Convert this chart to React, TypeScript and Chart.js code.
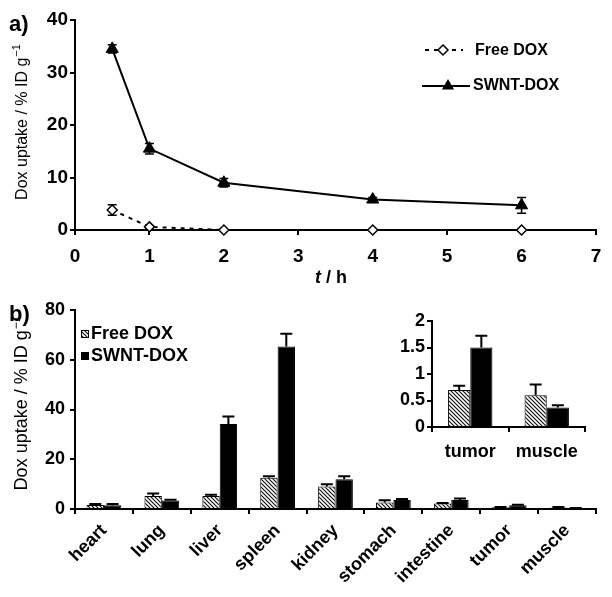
import React, { useEffect, useRef } from "react";
import { Chart, registerables } from "chart.js";
Chart.register(...registerables);

const FONT = "Arial, 'Liberation Sans', Helvetica, sans-serif";

// ---- Panel a: uptake vs time ----
const timeHours = [0.5, 1, 2, 4, 6];
const freeDoxTime = [3.8, 0.6, 0, 0, 0];
const freeDoxTimeErr = [1.0, 0.2, 0, 0, 0];
const swntDoxTime = [34.5, 15.5, 9.0, 5.8, 4.7];
const swntDoxTimeErr = [0.8, 1.0, 0.8, 0.4, 1.5];
const timeTickMin = 0;
const timeTickMax = 7;
const uptakeAMax = 40;

// ---- Panel b: organ distribution ----
const organs = ["heart", "lung", "liver", "spleen", "kidney", "stomach", "intestine", "tumor", "muscle"];
const freeDoxOrgan = [1.6, 5.2, 5.2, 12.6, 9.0, 2.6, 2.2, 0.7, 0.6];
const freeDoxOrganErr = [0.4, 1.0, 0.5, 0.6, 0.9, 0.9, 0.2, 0.08, 0.2];
const swntDoxOrgan = [1.5, 3.4, 34.2, 65.3, 12.0, 3.6, 3.6, 1.5, 0.37];
const swntDoxOrganErr = [0.5, 0.3, 3.0, 5.2, 1.2, 0.4, 0.6, 0.22, 0.04];
const uptakeBMax = 80;

// ---- Inset ----
const insetOrgans = ["tumor", "muscle"];
const insetFree = [0.7, 0.6];
const insetFreeErr = [0.08, 0.2];
const insetSwnt = [1.5, 0.37];
const insetSwntErr = [0.22, 0.04];
const insetMax = 2;

const seriesNames = ["Free DOX", "SWNT-DOX"];

Chart.defaults.font.family = FONT;
Chart.defaults.color = "#000";

function makeHatch(): CanvasPattern | string {
  const c = document.createElement("canvas");
  c.width = 4;
  c.height = 4;
  const g = c.getContext("2d");
  if (!g) return "#888";
  g.fillStyle = "#fff";
  g.fillRect(0, 0, 4, 4);
  g.strokeStyle = "#111";
  g.lineWidth = 1.2;
  g.beginPath();
  g.moveTo(-1, -1);
  g.lineTo(5, 5);
  g.moveTo(-1, 3);
  g.lineTo(1, 5);
  g.moveTo(3, -1);
  g.lineTo(5, 1);
  g.stroke();
  return g.createPattern(c, "repeat") as CanvasPattern;
}

function drawErrors(chart: any, cap: number, lw: number) {
  const ctx = chart.ctx;
  ctx.save();
  ctx.strokeStyle = "#000";
  ctx.lineWidth = lw;
  chart.data.datasets.forEach((ds: any, di: number) => {
    const errs = ds.errors;
    if (!errs) return;
    const meta = chart.getDatasetMeta(di);
    const ys = chart.scales[meta.yAxisID];
    meta.data.forEach((el: any, i: number) => {
      const e = errs[i];
      if (!e) return;
      const raw = ds.data[i];
      const v = typeof raw === "object" ? raw.y : raw;
      const x = el.x;
      const yTop = ys.getPixelForValue(v + e);
      const yBot = ds.errorBoth ? ys.getPixelForValue(v - e) : ys.getPixelForValue(v);
      ctx.beginPath();
      ctx.moveTo(x, yBot);
      ctx.lineTo(x, yTop);
      ctx.moveTo(x - cap / 2, yTop);
      ctx.lineTo(x + cap / 2, yTop);
      if (ds.errorBoth) {
        ctx.moveTo(x - cap / 2, yBot);
        ctx.lineTo(x + cap / 2, yBot);
      }
      ctx.stroke();
    });
  });
  ctx.restore();
}

function drawYTitle(ctx: CanvasRenderingContext2D, baseX: number, cy: number, size: number) {
  ctx.save();
  ctx.translate(baseX, cy);
  ctx.rotate(-Math.PI / 2);
  ctx.fillStyle = "#000";
  const main = "Dox uptake / % ID g";
  const sup = "\u22121";
  const supSize = Math.round(size * 0.68);
  ctx.font = `${size}px ${FONT}`;
  const w1 = ctx.measureText(main).width;
  ctx.font = `${supSize}px ${FONT}`;
  const w2 = ctx.measureText(sup).width;
  const start = -(w1 + w2 + 1) / 2;
  ctx.textAlign = "left";
  ctx.textBaseline = "alphabetic";
  ctx.font = `${size}px ${FONT}`;
  ctx.fillText(main, start, 0);
  ctx.font = `${supSize}px ${FONT}`;
  ctx.fillText(sup, start + w1 + 1, -size * 0.4);
  ctx.restore();
}

function drawDiamond(ctx: CanvasRenderingContext2D, x: number, y: number, r: number) {
  ctx.beginPath();
  ctx.moveTo(x, y - r);
  ctx.lineTo(x + r, y);
  ctx.lineTo(x, y + r);
  ctx.lineTo(x - r, y);
  ctx.closePath();
  ctx.fillStyle = "#fff";
  ctx.fill();
  ctx.strokeStyle = "#000";
  ctx.lineWidth = 1.5;
  ctx.stroke();
}

function drawTriangle(ctx: CanvasRenderingContext2D, x: number, y: number, r: number) {
  const h = (r * 3) / 2;
  const half = r * Math.sin(Math.PI / 3);
  ctx.beginPath();
  ctx.moveTo(x, y - r);
  ctx.lineTo(x + half, y - r + h);
  ctx.lineTo(x - half, y - r + h);
  ctx.closePath();
  ctx.fillStyle = "#000";
  ctx.fill();
}

const axisGrid = { drawOnChartArea: false, drawTicks: true, tickLength: 5, color: "#000", lineWidth: 2 };
const axisBorder = { color: "#000", width: 2 };
const tickFontA = { family: FONT, size: 19, weight: "bold" as const };
const tickFontB = { family: FONT, size: 18, weight: "bold" as const };

function makeTimeChart(): any {
  return {
    type: "line",
    data: {
      datasets: [
        {
          label: seriesNames[0],
          data: timeHours.map((t, i) => ({ x: t, y: freeDoxTime[i] })),
          errors: freeDoxTimeErr,
          errorBoth: true,
          borderColor: "#000",
          borderWidth: 2,
          borderDash: [4, 5],
          pointStyle: "rectRot",
          pointRadius: 5,
          pointBackgroundColor: "#fff",
          pointBorderColor: "#000",
          pointBorderWidth: 1.5,
          clip: false,
        },
        {
          label: seriesNames[1],
          data: timeHours.map((t, i) => ({ x: t, y: swntDoxTime[i] })),
          errors: swntDoxTimeErr,
          errorBoth: true,
          borderColor: "#000",
          borderWidth: 2,
          pointStyle: "triangle",
          pointRadius: 7,
          pointBackgroundColor: "#000",
          pointBorderColor: "#000",
          pointBorderWidth: 1,
          clip: false,
        },
      ],
    },
    options: {
      responsive: false,
      animation: false,
      devicePixelRatio: 1,
      layout: { padding: { top: 20, right: 16, left: 0, bottom: 0 } },
      plugins: { legend: { display: false }, tooltip: { enabled: false } },
      scales: {
        x: {
          type: "linear",
          min: timeTickMin,
          max: timeTickMax,
          ticks: { stepSize: 1, font: tickFontA, color: "#000", padding: 10 },
          grid: axisGrid,
          border: axisBorder,
          afterFit: (s: any) => {
            s.height = 60;
          },
        },
        y: {
          min: 0,
          max: uptakeAMax,
          ticks: { stepSize: 10, font: tickFontA, color: "#000", padding: 2 },
          grid: axisGrid,
          border: axisBorder,
          afterFit: (s: any) => {
            s.width = 75;
          },
        },
      },
    },
    plugins: [
      {
        id: "errA",
        beforeDatasetsDraw(chart: any) {
          drawErrors(chart, 9, 1.5);
        },
        afterDraw(chart: any) {
          const ctx = chart.ctx as CanvasRenderingContext2D;
          drawYTitle(ctx, 26.5, 122, 16);
          // x title "t / h"
          ctx.save();
          ctx.fillStyle = "#000";
          ctx.textBaseline = "alphabetic";
          ctx.textAlign = "left";
          ctx.font = `italic bold 18px ${FONT}`;
          const wt = ctx.measureText("t").width;
          ctx.font = `bold 18px ${FONT}`;
          const wr = ctx.measureText(" / h").width;
          const sx = 331 - (wt + wr) / 2;
          ctx.font = `italic bold 18px ${FONT}`;
          ctx.fillText("t", sx, 283);
          ctx.font = `bold 18px ${FONT}`;
          ctx.fillText(" / h", sx + wt, 283);
          // panel label
          ctx.font = `bold 22px ${FONT}`;
          ctx.fillText("a)", 9, 31);
          // legend
          ctx.save();
          ctx.strokeStyle = "#000";
          ctx.lineWidth = 2;
          ctx.setLineDash([4, 5]);
          ctx.beginPath();
          ctx.moveTo(425, 50);
          ctx.lineTo(463, 50);
          ctx.stroke();
          ctx.restore();
          drawDiamond(ctx, 443, 50, 5);
          ctx.strokeStyle = "#000";
          ctx.lineWidth = 2;
          ctx.beginPath();
          ctx.moveTo(422, 86);
          ctx.lineTo(470, 86);
          ctx.stroke();
          drawTriangle(ctx, 448, 86, 7);
          ctx.fillStyle = "#000";
          ctx.font = `bold 16px ${FONT}`;
          ctx.textBaseline = "middle";
          ctx.fillText(seriesNames[0], 475, 51);
          ctx.fillText(seriesNames[1], 473, 86);
          ctx.restore();
        },
      },
    ],
  };
}

function makeOrganChart(): any {
  const hatch = makeHatch();
  return {
    type: "bar",
    data: {
      labels: organs,
      datasets: [
        {
          label: seriesNames[0],
          data: freeDoxOrgan,
          errors: freeDoxOrganErr,
          backgroundColor: hatch,
          borderColor: "#000",
          borderWidth: 1,
          categoryPercentage: 0.6,
          barPercentage: 1,
        },
        {
          label: seriesNames[1],
          data: swntDoxOrgan,
          errors: swntDoxOrganErr,
          backgroundColor: "#000",
          borderColor: "#000",
          borderWidth: 1,
          categoryPercentage: 0.6,
          barPercentage: 1,
        },
      ],
    },
    options: {
      responsive: false,
      animation: false,
      devicePixelRatio: 1,
      layout: { padding: { top: 20, right: 16, left: 0, bottom: 0 } },
      plugins: { legend: { display: false }, tooltip: { enabled: false } },
      scales: {
        x: {
          ticks: { font: tickFontB, color: "#000", padding: 6, minRotation: 45, maxRotation: 45, autoSkip: false },
          grid: { ...axisGrid, offset: true },
          border: axisBorder,
          afterFit: (s: any) => {
            s.height = 88;
          },
        },
        y: {
          min: 0,
          max: uptakeBMax,
          ticks: { stepSize: 20, font: tickFontB, color: "#000", padding: 5 },
          grid: axisGrid,
          border: axisBorder,
          afterFit: (s: any) => {
            s.width = 75;
          },
        },
      },
    },
    plugins: [
      {
        id: "errB",
        afterDatasetsDraw(chart: any) {
          drawErrors(chart, 12, 2);
        },
        afterDraw(chart: any) {
          const ctx = chart.ctx as CanvasRenderingContext2D;
          drawYTitle(ctx, 27, 113, 18);
          ctx.save();
          ctx.fillStyle = "#000";
          ctx.textAlign = "left";
          ctx.textBaseline = "alphabetic";
          ctx.font = `bold 22px ${FONT}`;
          ctx.fillText("b)", 9, 31);
          // legend
          ctx.fillStyle = hatch as any;
          ctx.fillRect(81, 40, 8, 8);
          ctx.strokeStyle = "#000";
          ctx.lineWidth = 1;
          ctx.strokeRect(81.5, 40.5, 7, 7);
          ctx.fillStyle = "#000";
          ctx.fillRect(81, 62, 8, 8);
          ctx.font = `bold 18px ${FONT}`;
          ctx.textBaseline = "middle";
          ctx.fillText(seriesNames[0], 91, 44);
          ctx.fillText(seriesNames[1], 91, 66);
          ctx.restore();
        },
      },
    ],
  };
}

function makeInsetChart(): any {
  const hatch = makeHatch();
  return {
    type: "bar",
    data: {
      labels: insetOrgans,
      datasets: [
        {
          label: seriesNames[0],
          data: insetFree,
          errors: insetFreeErr,
          backgroundColor: hatch,
          borderColor: "#000",
          borderWidth: 1,
          categoryPercentage: 0.58,
          barPercentage: 1,
        },
        {
          label: seriesNames[1],
          data: insetSwnt,
          errors: insetSwntErr,
          backgroundColor: "#000",
          borderColor: "#000",
          borderWidth: 1,
          categoryPercentage: 0.58,
          barPercentage: 1,
        },
      ],
    },
    options: {
      responsive: false,
      animation: false,
      devicePixelRatio: 1,
      layout: { padding: { top: 21, right: 15, left: 0, bottom: 0 } },
      plugins: { legend: { display: false }, tooltip: { enabled: false } },
      scales: {
        x: {
          ticks: { font: tickFontB, color: "#000", padding: 9, maxRotation: 0, autoSkip: false },
          grid: { ...axisGrid, offset: true },
          border: axisBorder,
          afterFit: (s: any) => {
            s.height = 43;
          },
        },
        y: {
          min: 0,
          max: insetMax,
          ticks: { stepSize: 0.5, font: tickFontB, color: "#000", padding: 2, callback: (v: any) => String(v) },
          grid: axisGrid,
          border: axisBorder,
          afterFit: (s: any) => {
            s.width = 52;
          },
        },
      },
    },
    plugins: [
      {
        id: "errC",
        afterDatasetsDraw(chart: any) {
          drawErrors(chart, 12, 2);
        },
      },
    ],
  };
}

function ChartBox(props: { left: number; top: number; width: number; height: number; make: () => any }) {
  const { left, top, width, height, make } = props;
  const ref = useRef<HTMLCanvasElement>(null);
  useEffect(() => {
    if (!ref.current) return;
    const chart = new Chart(ref.current, make());
    return () => chart.destroy();
  }, []);
  return (
    <div style={{ position: "absolute", left, top, width, height }}>
      <canvas ref={ref} width={width} height={height} style={{ display: "block", width, height }} />
    </div>
  );
}

export default function App() {
  return (
    <div style={{ position: "fixed", left: 0, top: 0, width: 612, height: 597, background: "#fff", overflow: "hidden" }}>
      <ChartBox left={0} top={0} width={612} height={290} make={makeTimeChart} />
      <ChartBox left={0} top={290} width={612} height={307} make={makeOrganChart} />
      <ChartBox left={380} top={300} width={220} height={170} make={makeInsetChart} />
    </div>
  );
}
